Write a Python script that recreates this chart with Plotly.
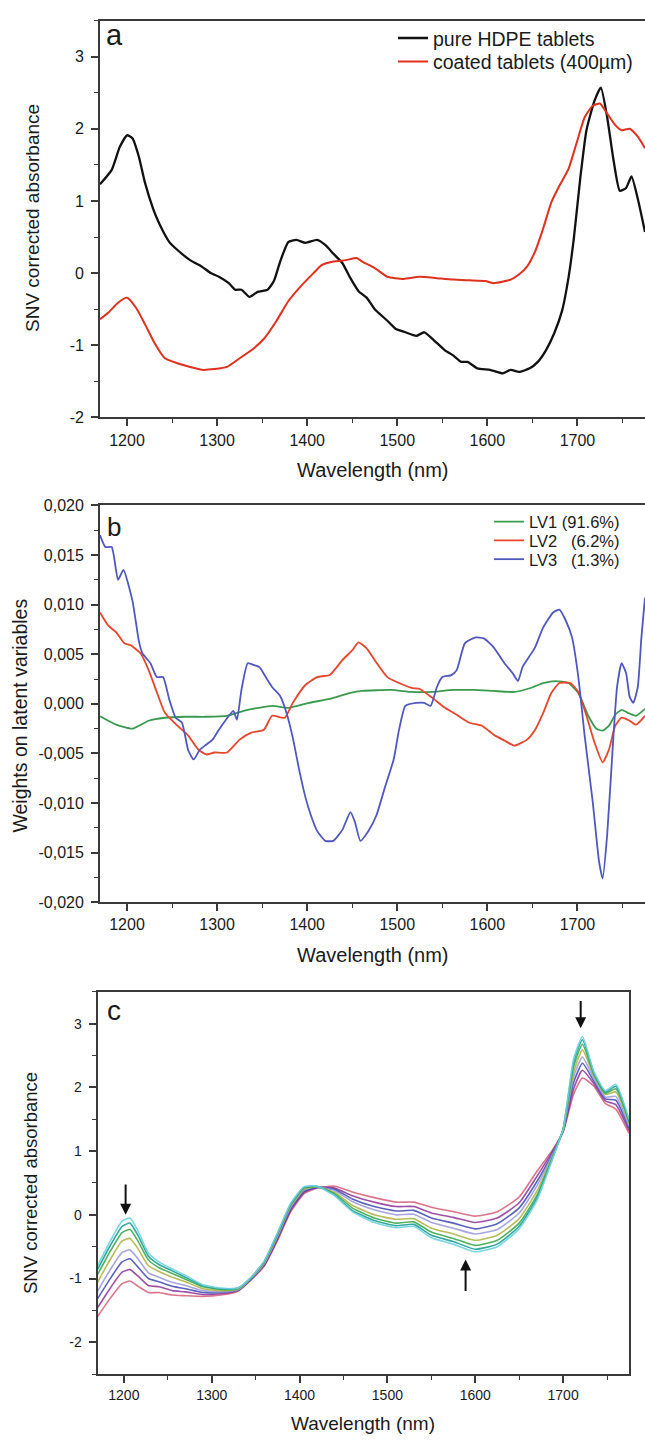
import plotly.graph_objects as go

# ---------------- DATA ----------------
# Panel a: SNV corrected absorbance
wl_hdpe = [1170, 1183, 1192, 1200, 1206, 1213, 1220, 1229, 1236, 1247, 1256, 1270, 1283, 1293, 1302, 1313, 1320,
           1327, 1336, 1345, 1356, 1363, 1370, 1379, 1388, 1398, 1411, 1420, 1429, 1439, 1448, 1457, 1466, 1475,
           1489, 1498, 1509, 1521, 1530, 1539, 1553, 1562, 1571, 1578, 1589, 1603, 1617, 1626, 1635, 1647, 1656,
           1665, 1674, 1683, 1690, 1696, 1703, 1710, 1719, 1726, 1733, 1740, 1747, 1754, 1760, 1767, 1775]
abs_hdpe = [1.23, 1.43, 1.75, 1.91, 1.87, 1.62, 1.25, 0.89, 0.68, 0.43, 0.32, 0.18, 0.09, 0.0, -0.05, -0.14, -0.23,
            -0.23, -0.33, -0.26, -0.23, -0.11, 0.16, 0.43, 0.46, 0.42, 0.46, 0.39, 0.27, 0.14, -0.07, -0.25, -0.34,
            -0.50, -0.66, -0.77, -0.82, -0.87, -0.82, -0.91, -1.07, -1.14, -1.23, -1.23, -1.32, -1.34, -1.39, -1.34,
            -1.37, -1.32, -1.23, -1.07, -0.84, -0.52, -0.07, 0.48, 1.30, 1.98, 2.39, 2.57, 2.16, 1.57, 1.14, 1.18,
            1.34, 1.03, 0.57]

wl_coated = [1170, 1179, 1190, 1200, 1210, 1220, 1231, 1242, 1256, 1270, 1283, 1297, 1311, 1325, 1338, 1352, 1366,
             1379, 1393, 1407, 1416, 1429, 1443, 1455, 1461, 1475, 1489, 1507, 1525, 1544, 1562, 1580, 1598, 1607,
             1626, 1635, 1644, 1653, 1662, 1671, 1680, 1690, 1699, 1708, 1717, 1725, 1733, 1742, 1749, 1758, 1767,
             1775]
abs_coated = [-0.64, -0.55, -0.41, -0.34, -0.48, -0.71, -0.98, -1.18, -1.25, -1.30, -1.34, -1.33, -1.30, -1.18,
              -1.07, -0.91, -0.66, -0.39, -0.18, 0.0, 0.11, 0.16, 0.18, 0.21, 0.16, 0.07, -0.05, -0.08, -0.05, -0.07,
              -0.09, -0.10, -0.11, -0.14, -0.09, -0.02, 0.09, 0.30, 0.62, 0.98, 1.21, 1.44, 1.80, 2.16, 2.32, 2.35,
              2.21, 2.05, 1.98, 2.00, 1.89, 1.73]

# Panel b: weights on latent variables
wl_lv1 = [1170, 1188, 1206, 1224, 1242, 1265, 1288, 1311, 1334, 1361, 1379, 1402, 1425, 1448, 1461, 1493, 1516,
          1539, 1562, 1585, 1607, 1630, 1648, 1662, 1676, 1690, 1701, 1712, 1721, 1728, 1735, 1742, 1749, 1756,
          1765, 1775]
lv1 = [-0.00125, -0.0021, -0.0025, -0.0017, -0.0014, -0.0013, -0.0013, -0.0012, -0.0006, -0.0002, -0.0004, 0.0001,
       0.0005, 0.0011, 0.0013, 0.0014, 0.0012, 0.0012, 0.0014, 0.0014, 0.0013, 0.0012, 0.0016, 0.0021, 0.0023,
       0.0021, 0.0011, -0.0012, -0.0025, -0.0027, -0.0022, -0.0011, -0.0006, -0.0009, -0.0012, -0.0005]

wl_lv2 = [1170, 1179, 1188, 1197, 1204, 1215, 1224, 1233, 1242, 1256, 1268, 1279, 1288, 1297, 1311, 1325, 1338,
          1352, 1361, 1375, 1384, 1398, 1411, 1425, 1439, 1450, 1457, 1466, 1475, 1489, 1502, 1516, 1525, 1539,
          1553, 1566, 1580, 1594, 1607, 1619, 1630, 1644, 1653, 1662, 1671, 1680, 1692, 1701, 1710, 1719, 1728,
          1735, 1742, 1749, 1758, 1765, 1775]
lv2 = [0.0092, 0.0079, 0.0072, 0.0061, 0.0059, 0.0051, 0.0034, 0.0012, -0.0009, -0.0022, -0.0032, -0.0046, -0.0051,
       -0.0049, -0.0049, -0.0036, -0.0029, -0.0026, -0.0012, -0.0014, 0.0001, 0.0019, 0.0027, 0.0029, 0.0044,
       0.0054, 0.0062, 0.0056, 0.0044, 0.0027, 0.0021, 0.0016, 0.0015, 0.0006, -0.0004, -0.0011, -0.0019, -0.0022,
       -0.0031, -0.0037, -0.0042, -0.0036, -0.0026, -0.0009, 0.0011, 0.0021, 0.0021, 0.0012, -0.0012, -0.0039,
       -0.0059, -0.0046, -0.0022, -0.0014, -0.0017, -0.0021, -0.0012]

wl_lv3 = [1170, 1176, 1183, 1190, 1196, 1206, 1213, 1217, 1226, 1233, 1240, 1247, 1254, 1261, 1268, 1274, 1281,
          1288, 1295, 1302, 1309, 1318, 1322, 1327, 1334, 1341, 1347, 1354, 1361, 1370, 1377, 1384, 1391, 1398,
          1404, 1411, 1420, 1429, 1439, 1448, 1453, 1459, 1468, 1477, 1486, 1496, 1502, 1509, 1521, 1530, 1537,
          1544, 1550, 1560, 1566, 1575, 1587, 1596, 1607, 1619, 1628, 1634, 1639, 1646, 1653, 1662, 1673, 1680,
          1687, 1694, 1701, 1708, 1717, 1724, 1728, 1733, 1740, 1744, 1749, 1754, 1758, 1762, 1767, 1771, 1775]
lv3 = [0.0170, 0.0158, 0.0158, 0.0125, 0.0135, 0.0104, 0.0064, 0.0051, 0.0041, 0.0027, 0.0027, 0.0004, -0.0014,
       -0.0019, -0.0047, -0.0056, -0.0046, -0.0041, -0.0036, -0.0026, -0.0017, -0.0007, -0.0016, 0.0014, 0.0041,
       0.0039, 0.0037, 0.0027, 0.0017, 0.0008, -0.0009, -0.0034, -0.0066, -0.0094, -0.0112, -0.0128, -0.0138,
       -0.0138, -0.0127, -0.0109, -0.0119, -0.0138, -0.0128, -0.0112, -0.0085, -0.0056, -0.0026, -0.0002, 0.0001,
       0.0001, -0.0002, 0.0017, 0.0027, 0.0029, 0.0034, 0.0061, 0.0067, 0.0066, 0.0057, 0.0041, 0.0031, 0.0023,
       0.0037, 0.0047, 0.0057, 0.0077, 0.0092, 0.0095, 0.0084, 0.0067, 0.0027, -0.0032, -0.0099, -0.0159, -0.0176,
       -0.0132, -0.0032, 0.0017, 0.0041, 0.0031, 0.0007, 0.0001, 0.0017, 0.0067, 0.0107]

# Panel c: set of SNV spectra (representative curves read across the bundle)
wl_c = [1170, 1185, 1198, 1207, 1216, 1228, 1240, 1255, 1270, 1290, 1310, 1330, 1345, 1360, 1375, 1390, 1405, 1420,
        1440, 1460, 1485, 1510, 1530, 1550, 1575, 1600, 1625, 1650, 1670, 1688, 1700, 1712, 1722, 1735, 1748, 1760,
        1775]
spec_cyan = [-0.80, -0.40, -0.10, -0.05, -0.25, -0.60, -0.74, -0.85, -0.95, -1.10, -1.15, -1.15, -0.98, -0.72,
             -0.28, 0.18, 0.44, 0.45, 0.30, 0.05, -0.12, -0.20, -0.18, -0.36, -0.46, -0.58, -0.50, -0.22, 0.22, 0.88,
             1.35, 2.45, 2.80, 2.25, 1.95, 2.05, 1.50]
spec_teal = [-0.86, -0.47, -0.18, -0.13, -0.32, -0.65, -0.78, -0.88, -0.98, -1.11, -1.16, -1.15, -0.98, -0.73,
             -0.29, 0.17, 0.43, 0.45, 0.31, 0.07, -0.09, -0.17, -0.15, -0.32, -0.42, -0.54, -0.46, -0.18, 0.26, 0.89,
             1.35, 2.40, 2.75, 2.23, 1.93, 2.02, 1.48]
spec_green = [-0.94, -0.56, -0.28, -0.23, -0.41, -0.71, -0.83, -0.92, -1.01, -1.13, -1.17, -1.16, -0.99, -0.73,
              -0.30, 0.16, 0.42, 0.44, 0.33, 0.11, -0.05, -0.13, -0.11, -0.27, -0.37, -0.48, -0.40, -0.13, 0.30,
              0.91, 1.34, 2.33, 2.68, 2.21, 1.91, 1.98, 1.46]
spec_olive = [-1.06, -0.69, -0.41, -0.37, -0.53, -0.80, -0.89, -0.98, -1.05, -1.16, -1.19, -1.17, -0.99, -0.75,
              -0.32, 0.14, 0.40, 0.44, 0.35, 0.15, 0.00, -0.07, -0.06, -0.21, -0.30, -0.40, -0.32, -0.06, 0.37,
              0.92, 1.33, 2.24, 2.59, 2.18, 1.89, 1.93, 1.43]
spec_lavender = [-1.20, -0.85, -0.59, -0.55, -0.69, -0.91, -0.98, -1.06, -1.11, -1.19, -1.21, -1.18, -1.00, -0.76,
                 -0.34, 0.12, 0.39, 0.44, 0.38, 0.21, 0.08, 0.00, 0.01, -0.12, -0.21, -0.30, -0.23, 0.03, 0.45,
                 0.95, 1.33, 2.17, 2.48, 2.14, 1.85, 1.86, 1.39]
spec_blue = [-1.32, -0.99, -0.74, -0.69, -0.82, -1.00, -1.05, -1.12, -1.16, -1.22, -1.22, -1.18, -1.01, -0.77,
             -0.36, 0.10, 0.37, 0.43, 0.40, 0.25, 0.13, 0.06, 0.07, -0.05, -0.13, -0.22, -0.14, 0.11, 0.52, 0.97,
             1.32, 2.08, 2.38, 2.10, 1.82, 1.80, 1.36]
spec_purple = [-1.46, -1.14, -0.90, -0.86, -0.96, -1.11, -1.13, -1.19, -1.21, -1.25, -1.24, -1.19, -1.01, -0.79,
               -0.38, 0.07, 0.35, 0.43, 0.42, 0.30, 0.20, 0.13, 0.13, 0.03, -0.04, -0.12, -0.05, 0.19, 0.60, 1.00,
               1.31, 1.98, 2.27, 2.06, 1.79, 1.73, 1.32]
spec_pink = [-1.60, -1.30, -1.08, -1.04, -1.12, -1.22, -1.22, -1.26, -1.27, -1.28, -1.26, -1.20, -1.02, -0.80,
             -0.40, 0.05, 0.33, 0.42, 0.45, 0.36, 0.27, 0.20, 0.20, 0.12, 0.05, -0.02, 0.05, 0.28, 0.68, 1.02, 1.30,
             1.90, 2.15, 2.02, 1.75, 1.66, 1.28]

# Tick labels
x_ticks = [1200, 1300, 1400, 1500, 1600, 1700]
x_ticktext = ["1200", "1300", "1400", "1500", "1600", "1700"]
snv_ticks = [-2, -1, 0, 1, 2, 3]
snv_ticktext = ["-2", "-1", "0", "1", "2", "3"]
w_ticks = [-0.020, -0.015, -0.010, -0.005, 0.0, 0.005, 0.010, 0.015, 0.020]
w_ticktext = ["-0,020", "-0,015", "-0,010", "-0,005", "0,000", "0,005", "0,010", "0,015", "0,020"]

# ---------------- FIGURE ----------------
W, H = 645, 1444
FONT = "Liberation Sans, Arial, Helvetica, sans-serif"
AXC = "#3a3a3a"
TXT = "#1a1a1a"


def px_x(p):
    return p / W


def px_y(p):
    return 1 - p / H


fig = go.Figure()

sm = dict(shape="spline", smoothing=0.5)
fig.add_trace(go.Scatter(x=wl_hdpe, y=abs_hdpe, mode="lines", name="pure HDPE tablets",
                         line=dict(color="#111111", width=2.3, **sm), xaxis="x", yaxis="y", legend="legend"))
fig.add_trace(go.Scatter(x=wl_coated, y=abs_coated, mode="lines", name="coated tablets (400\u00b5m)",
                         line=dict(color="#e0301e", width=2.0, **sm), xaxis="x", yaxis="y", legend="legend2"))

fig.add_trace(go.Scatter(x=wl_lv1, y=lv1, mode="lines", name="LV1 (91.6%)",
                         line=dict(color="#3a9a4e", width=1.8, **sm), xaxis="x2", yaxis="y2", legend="legend3"))
fig.add_trace(go.Scatter(x=wl_lv2, y=lv2, mode="lines", name="LV2\u00a0\u00a0\u00a0(6.2%)",
                         line=dict(color="#e8452c", width=1.8, **sm), xaxis="x2", yaxis="y2", legend="legend4"))
fig.add_trace(go.Scatter(x=wl_lv3, y=lv3, mode="lines", name="LV3\u00a0\u00a0\u00a0(1.3%)",
                         line=dict(color="#5058c0", width=1.8, **sm), xaxis="x2", yaxis="y2", legend="legend5"))

spectra = [
    (spec_pink, "rgba(214,92,120,0.85)"),
    (spec_purple, "rgba(140,50,150,0.85)"),
    (spec_blue, "rgba(60,70,180,0.85)"),
    (spec_lavender, "rgba(150,150,220,0.85)"),
    (spec_olive, "rgba(175,180,70,0.9)"),
    (spec_green, "rgba(60,170,80,0.9)"),
    (spec_teal, "rgba(30,160,150,0.9)"),
    (spec_cyan, "rgba(110,210,225,0.9)"),
]
for vals, col in spectra:
    fig.add_trace(go.Scatter(x=wl_c, y=vals, mode="lines", showlegend=False,
                             line=dict(color=col, width=1.6, **sm), xaxis="x3", yaxis="y3"))


def xaxis(domain, anchor, fsize):
    return dict(domain=domain, anchor=anchor, range=[1170, 1775], showline=True, linecolor=AXC, linewidth=1.8,
                mirror=True, ticks="outside", ticklen=7, tickwidth=1.5, tickcolor=AXC,
                tickmode="array", tickvals=x_ticks, ticktext=x_ticktext,
                tickfont=dict(size=fsize, family=FONT, color=TXT),
                minor=dict(ticks="outside", ticklen=4, tickwidth=1.3, tickcolor=AXC,
                           tickmode="linear", tick0=1150, dtick=50, showgrid=False),
                showgrid=False, zeroline=False, fixedrange=True)


def yaxis(domain, anchor, rng, tv, tt, mdt, fsize, mirror):
    return dict(domain=domain, anchor=anchor, range=rng, showline=True, linecolor=AXC, linewidth=1.8,
                mirror=mirror, ticks="outside", ticklen=7, tickwidth=1.5, tickcolor=AXC,
                tickmode="array", tickvals=tv, ticktext=tt, ticklabelstandoff=4,
                tickfont=dict(size=fsize, family=FONT, color=TXT),
                minor=dict(ticks="outside", ticklen=4, tickwidth=1.3, tickcolor=AXC,
                           tickmode="linear", tick0=0, dtick=mdt, showgrid=False),
                showgrid=False, zeroline=False, fixedrange=True)


dom_a_x = [px_x(100), 1.0]
dom_a_y = [px_y(414.3), px_y(12.7)]
dom_b_x = [px_x(100), 1.0]
dom_b_y = [px_y(905), px_y(503.3)]
dom_c_x = [px_x(97.5), px_x(629)]
dom_c_y = [px_y(1382.3), px_y(995.7)]


def leg(xpx, ypx, size):
    return dict(x=px_x(xpx), xanchor="left", y=px_y(ypx), yanchor="middle",
                font=dict(size=size, family=FONT, color=TXT), bgcolor="rgba(0,0,0,0)",
                borderwidth=0, itemclick=False, itemdoubleclick=False)


annos = []


def text(s, xpx, ypx, size, angle=0, xanchor="center"):
    annos.append(dict(text=s, x=px_x(xpx), y=px_y(ypx), xref="paper", yref="paper", showarrow=False,
                      textangle=angle, xanchor=xanchor, yanchor="middle",
                      font=dict(size=size, family=FONT, color=TXT)))


# panel letters
text("a", 104, 27, 29, xanchor="left")
text("b", 105, 525, 26, xanchor="left")
text("c", 105, 1014, 28, xanchor="left")
# axis titles
text("SNV corrected absorbance", 33, 212.5, 19, angle=-90)
text("Wavelength (nm)", 373, 467, 20)
text("Weights on latent variables", 20, 716, 19.5, angle=-90)
text("Wavelength (nm)", 373, 958, 20)
text("SNV corrected absorbance", 30, 1189, 18.5, angle=-90)
text("Wavelength (nm)", 363, 1432, 19)

# arrows in panel c
for (xt, yt, ya) in [(1202, 0.0, 0.5), (1720, 2.93, 3.38), (1589, -0.70, -1.22)]:
    annos.append(dict(x=xt, y=yt, ax=xt, ay=ya, xref="x3", yref="y3", axref="x3", ayref="y3",
                      showarrow=True, arrowhead=2, arrowsize=1.1, arrowwidth=2, arrowcolor="#111111", text=""))

fig.update_layout(
    width=W, height=H, margin=dict(l=0, r=0, t=0, b=0),
    paper_bgcolor="white", plot_bgcolor="white",
    font=dict(family=FONT, color=TXT),
    xaxis=xaxis(dom_a_x, "y", 16),
    yaxis=yaxis(dom_a_y, "x", [-2, 3.5], snv_ticks, snv_ticktext, 0.5, 16, False),
    xaxis2=xaxis(dom_b_x, "y2", 16),
    yaxis2=yaxis(dom_b_y, "x2", [-0.02, 0.02], w_ticks, w_ticktext, 0.0025, 16, False),
    xaxis3=xaxis(dom_c_x, "y3", 14),
    yaxis3=yaxis(dom_c_y, "x3", [-2.5, 3.5], snv_ticks, snv_ticktext, 0.5, 14, True),
    legend=leg(393, 30.7, 19.5),
    legend2=leg(393, 54.5, 19.5),
    legend3=leg(489, 520, 16.5),
    legend4=leg(489, 539, 16.5),
    legend5=leg(489, 558, 16.5),
    annotations=annos,
    showlegend=True,
)

fig.write_html("out.html", config={"displayModeBar": False},
               post_script="document.body.style.margin='0';document.body.style.overflow='hidden';")
